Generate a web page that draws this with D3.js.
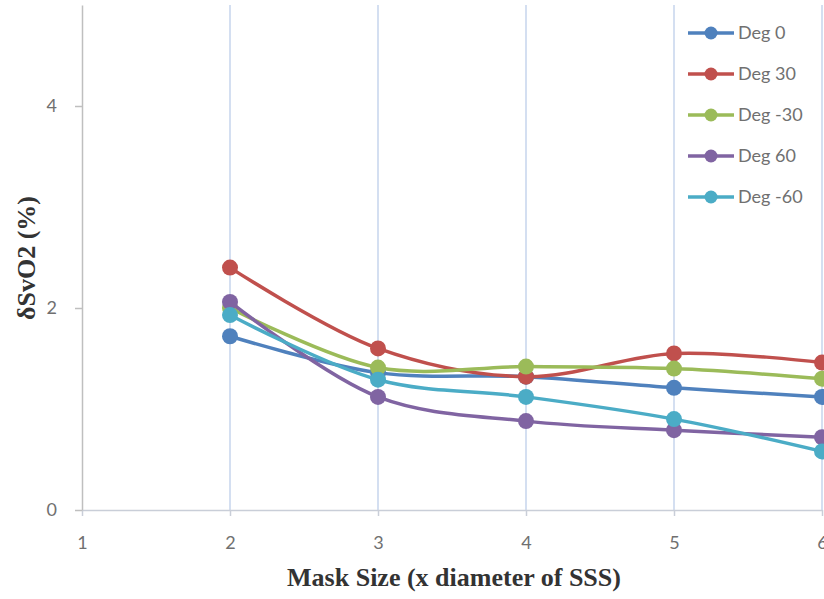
<!DOCTYPE html>
<html>
<head>
<meta charset="utf-8">
<script src="https://cdn.jsdelivr.net/npm/d3@7"></script>
<style>
  body { margin: 0; background: #fff; }
  svg { display: block; }
</style>
</head>
<body>
<svg width="824" height="599"></svg>
<script>
  // values
  const maskSizes = [2, 3, 4, 5, 6];
  const deg0 = [1.72, 1.36, 1.32, 1.21, 1.12];
  const deg30 = [2.4, 1.6, 1.32, 1.55, 1.46];
  const degMinus30 = [2.0, 1.41, 1.42, 1.4, 1.3];
  const deg60 = [2.06, 1.12, 0.88, 0.79, 0.72];
  const degMinus60 = [1.93, 1.29, 1.12, 0.9, 0.58];
  const seriesNames = ["Deg 0", "Deg 30", "Deg -30", "Deg 60", "Deg -60"];
  const seriesColors = ["#4F81BD", "#C0504D", "#9BBB59", "#8064A2", "#4BACC6"];
  const xTicks = [1, 2, 3, 4, 5, 6];
  const yTicks = [0, 2, 4];

  const series = [deg0, deg30, degMinus30, deg60, degMinus60].map((vals, i) => ({
    name: seriesNames[i],
    color: seriesColors[i],
    points: vals.map((v, j) => ({ x: maskSizes[j], y: v })),
  }));

  const svg = d3.select("svg");
  const x = d3.scaleLinear().domain([1, 6]).range([82, 822]);
  const y = d3.scaleLinear().domain([0, 5]).range([510, 5]);
  const tickFont = "Lato, 'Open Sans', sans-serif";

  // vertical gridlines
  svg
    .append("g")
    .selectAll("line")
    .data(xTicks.slice(1))
    .enter()
    .append("line")
    .attr("x1", (d) => x(d))
    .attr("x2", (d) => x(d))
    .attr("y1", y(5))
    .attr("y2", y(0))
    .attr("stroke", "#C6D4EC")
    .attr("stroke-width", 1.5);

  // x axis
  const xAxis = svg
    .append("g")
    .attr("transform", `translate(0,${y(0)})`)
    .call(
      d3.axisBottom(x).tickValues(xTicks).tickFormat(d3.format("d"))
        .tickSize(6).tickPadding(20).tickSizeOuter(0)
    );
  xAxis.select(".domain").attr("stroke", "#C9CED8").attr("stroke-width", 1.5);
  xAxis.selectAll(".tick line").attr("stroke", "#C9CED8").attr("stroke-width", 1.5);
  xAxis
    .selectAll("text")
    .attr("fill", "#707070")
    .style("font-family", tickFont)
    .style("font-size", "18px");

  // y axis
  const yAxis = svg
    .append("g")
    .attr("transform", `translate(${x(1)},0)`)
    .call(
      d3.axisLeft(y).tickValues(yTicks).tickFormat(d3.format("d"))
        .tickSize(7).tickPadding(18).tickSizeOuter(0)
    );
  yAxis.select(".domain").attr("stroke", "#BFBFBF").attr("stroke-width", 1.5);
  yAxis.selectAll(".tick line").attr("stroke", "#BFBFBF").attr("stroke-width", 1.5);
  yAxis
    .selectAll("text")
    .attr("fill", "#707070")
    .style("font-family", tickFont)
    .style("font-size", "18px");

  // lines
  const line = d3
    .line()
    .x((d) => x(d.x))
    .y((d) => y(d.y))
    .curve(d3.curveCatmullRom.alpha(0.5));

  const groups = svg
    .append("g")
    .selectAll("g")
    .data(series)
    .enter()
    .append("g");
  groups
    .append("path")
    .attr("d", (d) => line(d.points))
    .attr("fill", "none")
    .attr("stroke", (d) => d.color)
    .attr("stroke-width", 3.5);
  groups
    .selectAll("circle")
    .data((d) => d.points.map((p) => ({ ...p, color: d.color })))
    .enter()
    .append("circle")
    .attr("cx", (d) => x(d.x))
    .attr("cy", (d) => y(d.y))
    .attr("r", 8)
    .attr("fill", (d) => d.color);

  // legend
  const legend = svg.append("g").attr("transform", "translate(688,33)");
  const items = legend
    .selectAll("g")
    .data(series)
    .enter()
    .append("g")
    .attr("transform", (d, i) => `translate(0,${i * 41})`);
  items
    .append("line")
    .attr("x1", 0)
    .attr("x2", 46)
    .attr("stroke", (d) => d.color)
    .attr("stroke-width", 3.5);
  items
    .append("circle")
    .attr("cx", 23)
    .attr("r", 6.5)
    .attr("fill", (d) => d.color);
  items
    .append("text")
    .attr("x", 50)
    .attr("dy", "0.35em")
    .attr("fill", "#707070")
    .style("font-family", tickFont)
    .style("font-size", "18px")
    .text((d) => d.name);

  // axis titles
  svg
    .append("text")
    .attr("x", 454)
    .attr("y", 586)
    .attr("text-anchor", "middle")
    .attr("fill", "#333")
    .style("font-family", "'Liberation Serif', serif")
    .style("font-weight", "bold")
    .style("font-size", "26px")
    .text("Mask Size (x diameter of SSS)");

  svg
    .append("text")
    .attr("transform", "translate(35,258) rotate(-90)")
    .attr("text-anchor", "middle")
    .attr("fill", "#333")
    .style("font-family", "'Liberation Serif', serif")
    .style("font-weight", "bold")
    .style("font-size", "26px")
    .text("δSvO2 (%)");
</script>
</body>
</html>
